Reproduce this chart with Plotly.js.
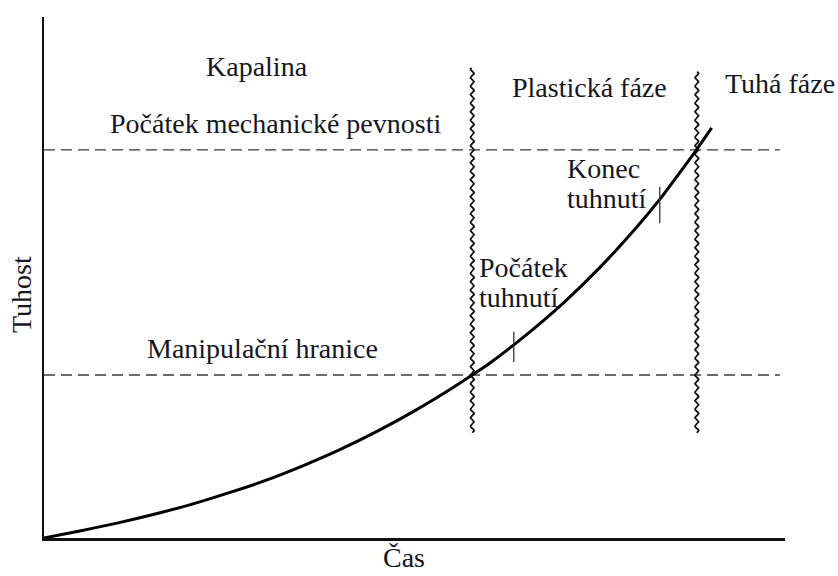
<!DOCTYPE html>
<html>
<head>
<meta charset="utf-8">
<script src="https://cdn.plot.ly/plotly-3.0.1.min.js"></script>
<style>html,body{margin:0;padding:0;background:#fff;}#chart{width:838px;height:576px;}</style>
</head>
<body>
<div id="chart"></div>
<script>
// Stiffness curve (time, stiffness in arbitrary units)
const curveTime = [0, 0.5, 1, 1.5, 2, 2.5, 3, 3.5, 4, 4.5, 5, 5.5, 5.78, 6, 6.5, 7, 7.5, 8, 8.31, 8.5, 8.81, 9.01];
const curveStiffness = [0, 0.14, 0.29, 0.46, 0.65, 0.87, 1.11, 1.39, 1.70, 2.05, 2.44, 2.87, 3.13, 3.34, 3.89, 4.50, 5.19, 5.97, 6.50, 6.86, 7.46, 7.87];

// Horizontal threshold levels (dashed): Manipulační hranice, Počátek mechanické pevnosti
const levelNames = ["Manipulační hranice", "Počátek mechanické pevnosti"];
const levelValues = [3.13, 7.45];
const levelEnd = 9.93;

// Phase boundaries (wavy vertical lines)
const boundaryTimes = [5.78, 8.81];
const boundaryTop = [9.02, 8.94];
const boundaryBottom = [2.02, 2.02];

// Setting marks on the curve: Počátek tuhnutí, Konec tuhnutí
const markTimes = [6.34, 8.31];
const markCenters = [3.67, 6.39];
const markHalf = [0.29, 0.35];

// Region labels
const regionLabels = ["Kapalina", "Plastická fáze", "Tuhá fáze"];
const regionX = [2.88, 7.36, 9.93];
const regionY = [9.05, 8.65, 8.72];

// Axis titles
const xTitle = "Čas", yTitle = "Tuhost";

const xRange = [0, 10], yRange = [0, 10];
const W = 838, H = 576;
const margin = {l: 44, r: 53, t: 17, b: 38};
const pxX = (xRange[1]-xRange[0]) / (W - margin.l - margin.r);
const pxY = (yRange[1]-yRange[0]) / (H - margin.t - margin.b);

const FAMILY = "Liberation Serif, Times New Roman, serif";
const baseFont = {family: FAMILY, size: 28, color: "#161622"};
const traces = [];

// dashed levels
const lx = [], ly = [];
levelValues.forEach(v => { lx.push(0, levelEnd, null); ly.push(v, v, null); });
traces.push({x: lx, y: ly, mode: "lines", line: {color: "#3a3a3a", width: 1.4, dash: "11px,6px"}, hoverinfo: "skip"});

// wavy boundary lines (wave is decoration only)
boundaryTimes.forEach((b, i) => {
  const wx = [], wy = [];
  const nSteps = Math.round((boundaryTop[i] - boundaryBottom[i]) / pxY);
  for (let k = 0; k <= nSteps; k++) {
    wx.push(b + 1.8 * pxX * Math.sin(2 * Math.PI * k / 8.5));
    wy.push(boundaryBottom[i] + k * pxY);
  }
  traces.push({x: wx, y: wy, mode: "lines", line: {color: "#111", width: 1.8}, hoverinfo: "skip"});
});

// curve
traces.push({x: curveTime, y: curveStiffness, mode: "lines", line: {color: "#000", width: 3, shape: "spline", smoothing: 0.8}, hoverinfo: "skip"});

// setting marks
const mx = [], my = [];
markTimes.forEach((t, i) => { mx.push(t, t, null); my.push(markCenters[i] - markHalf[i], markCenters[i] + markHalf[i], null); });
traces.push({x: mx, y: my, mode: "lines", line: {color: "#333", width: 1.3}, hoverinfo: "skip"});

const f = () => Object.assign({}, baseFont);
const annotations = [];
regionLabels.forEach((t, i) => annotations.push({x: regionX[i], y: regionY[i], text: t, showarrow: false, xanchor: "center", yanchor: "middle", font: f()}));
annotations.push({x: 3.12, y: 7.96, text: levelNames[1], showarrow: false, xanchor: "center", yanchor: "middle", font: f()});
annotations.push({x: 2.955, y: 3.64, text: levelNames[0], showarrow: false, xanchor: "center", yanchor: "middle", font: f()});
annotations.push({x: 5.84, y: 5.19, text: "Počátek", showarrow: false, xanchor: "left", yanchor: "middle", font: f()});
annotations.push({x: 5.84, y: 4.62, text: "tuhnutí", showarrow: false, xanchor: "left", yanchor: "middle", font: f()});
annotations.push({x: 7.03, y: 7.09, text: "Konec", showarrow: false, xanchor: "left", yanchor: "middle", font: f()});
annotations.push({x: 7.03, y: 6.52, text: "tuhnutí", showarrow: false, xanchor: "left", yanchor: "middle", font: f()});
// axis titles placed as in the reference
annotations.push({xref: "paper", yref: "paper", x: (404 - margin.l) / (W - margin.l - margin.r), y: (H - 557 - margin.b) / (H - margin.t - margin.b),
                  text: xTitle, showarrow: false, xanchor: "center", yanchor: "middle", font: f()});
annotations.push({xref: "paper", yref: "paper", x: (22 - margin.l) / (W - margin.l - margin.r), y: (H - 295 - margin.b) / (H - margin.t - margin.b),
                  text: yTitle, textangle: -90, showarrow: false, xanchor: "center", yanchor: "middle", font: f()});

const layout = {
  width: W, height: H, margin: margin,
  font: {family: FAMILY},
  paper_bgcolor: "#fff", plot_bgcolor: "#fff",
  showlegend: false,
  xaxis: {range: xRange, showgrid: false, zeroline: false, showticklabels: false, ticks: "", showline: true, linecolor: "#111", linewidth: 2.5},
  yaxis: {range: yRange, showgrid: false, zeroline: false, showticklabels: false, ticks: "", showline: true, linecolor: "#111", linewidth: 2},
  annotations: annotations
};
Plotly.newPlot("chart", traces, layout, {staticPlot: true, displayModeBar: false});
</script>
</body>
</html>
